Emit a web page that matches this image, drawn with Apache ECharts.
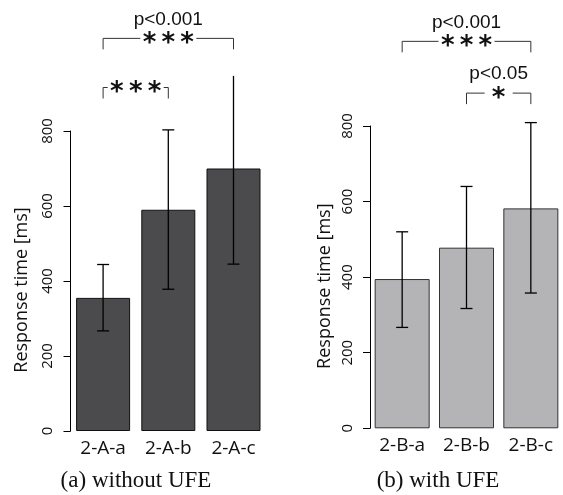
<!DOCTYPE html>
<html>
<head>
<meta charset="utf-8">
<script src="https://cdn.jsdelivr.net/npm/echarts@6/dist/echarts.min.js"></script>
<style>
  html, body { margin: 0; padding: 0; background: #fff; }
  #chart { width: 563px; height: 495px; }
</style>
</head>
<body>
<div id="chart"></div>
<script>
// (a) without UFE
const catA = ["2-A-a", "2-A-b", "2-A-c"];
const meanA = [355, 590, 700];
const lowA = [267, 378, 445];
const highA = [444, 803, 947];
// (b) with UFE
const catB = ["2-B-a", "2-B-b", "2-B-c"];
const meanB = [395, 478, 582];
const lowB = [267, 317, 358];
const highB = [520, 640, 809];
// significance brackets: [from, to, level (ms), stars, p label]
const sigA = [
  [0, 2, 1047, "*\u2009*\u2009*", "p<0.001"],
  [0, 1, 916, "*\u2009*\u2009*", ""],
];
const sigB = [
  [0, 2, 1024, "*\u2009*\u2009*", "p<0.001"],
  [1, 2, 887, "*", "p<0.05"],
];
const yMax = 800;
const yStep = 200;

const sans = "Open Sans";
const chart = echarts.init(document.getElementById("chart"));

function errRender(params, api) {
  const x = api.value(0);
  const lo = api.value(1);
  const hi = api.value(2);
  const top = api.coord([x, hi]);
  const bot = api.coord([x, lo]);
  const w = 6;
  const style = { stroke: "#000", lineWidth: 1.3 };
  const kids = [
    { type: "line", shape: { x1: top[0], y1: top[1], x2: bot[0], y2: bot[1] }, style },
    { type: "line", shape: { x1: bot[0] - w, y1: bot[1], x2: bot[0] + w, y2: bot[1] }, style },
  ];
  // in the original the top cap of very tall whiskers is cut off
  if (hi < 900) {
    kids.push({ type: "line", shape: { x1: top[0] - w, y1: top[1], x2: top[0] + w, y2: top[1] }, style });
  }
  return { type: "group", children: kids };
}

function bracketRender(list) {
  return function (params, api) {
    const s = list[params.dataIndex];
    const p0 = api.coord([s[0], s[2]]);
    const p1 = api.coord([s[1], s[2]]);
    const y = p0[1];
    const drop = 11;
    const cx = (p0[0] + p1[0]) / 2;
    const half = s[3].length > 1 ? 28 : 14;
    const ls = { stroke: "#333", lineWidth: 1, fill: null };
    const kids = [
      { type: "polyline", shape: { points: [[p0[0], y + drop], [p0[0], y], [cx - half, y]] }, style: ls },
      { type: "polyline", shape: { points: [[cx + half, y], [p1[0], y], [p1[0], y + drop]] }, style: ls },
      {
        type: "text",
        x: cx, y: y + 6,
        style: { text: s[3], fill: "#111", font: 'bold 26px "DejaVu Sans"', textAlign: "center", textVerticalAlign: "middle" },
      },
    ];
    if (s[4]) {
      kids.push({
        type: "text",
        x: cx, y: y - 19,
        style: { text: s[4], fill: "#111", font: '19px "Liberation Sans"', textAlign: "center", textVerticalAlign: "middle" },
      });
    }
    return { type: "group", children: kids };
  };
}

function xAxisCfg(cats, idx) {
  return {
    type: "category",
    gridIndex: idx,
    data: cats,
    axisLine: { show: false },
    axisTick: { show: false },
    axisLabel: { fontFamily: sans, fontSize: 19, color: "#111", margin: 8 },
  };
}

function yAxisCfg(idx, gap) {
  return {
    type: "value",
    gridIndex: idx,
    min: 0,
    max: yMax,
    interval: yStep,
    name: "Response time [ms]",
    nameLocation: "middle",
    nameGap: gap,
    nameTextStyle: { fontFamily: sans, fontSize: 18, color: "#111", padding: [0, 18, 0, 0] },
    splitLine: { show: false },
    axisLine: { show: true, lineStyle: { color: "#000", width: 1 } },
    axisTick: { show: true, length: 7, lineStyle: { color: "#000" } },
    axisLabel: { rotate: 90, fontFamily: sans, fontSize: 15, color: "#111", margin: 15 },
  };
}

const option = {
  animation: false,
  backgroundColor: "#fff",
  grid: [
    { left: 70.5, top: 131, width: 195.6, height: 300 },
    { left: 370, top: 126, width: 197, height: 302.3 },
  ],
  xAxis: [xAxisCfg(catA, 0), xAxisCfg(catB, 1)],
  yAxis: [yAxisCfg(0, 40), yAxisCfg(1, 36)],
  series: [
    {
      type: "bar", xAxisIndex: 0, yAxisIndex: 0, data: meanA, barWidth: 54,
      itemStyle: { color: "#4b4b4d", borderColor: "#111", borderWidth: 1 },
    },
    {
      type: "bar", xAxisIndex: 1, yAxisIndex: 1, data: meanB, barWidth: 55,
      itemStyle: { color: "#b4b4b6", borderColor: "#333", borderWidth: 1 },
    },
    {
      type: "custom", xAxisIndex: 0, yAxisIndex: 0, clip: false, z: 5,
      data: catA.map((c, i) => [i, lowA[i], highA[i]]),
      renderItem: errRender,
    },
    {
      type: "custom", xAxisIndex: 1, yAxisIndex: 1, clip: false, z: 5,
      data: catB.map((c, i) => [i, lowB[i], highB[i]]),
      renderItem: errRender,
    },
    {
      type: "custom", xAxisIndex: 0, yAxisIndex: 0, clip: false, z: 5,
      data: sigA.map((s) => [s[0], s[2]]),
      renderItem: bracketRender(sigA),
    },
    {
      type: "custom", xAxisIndex: 1, yAxisIndex: 1, clip: false, z: 5,
      data: sigB.map((s) => [s[0], s[2]]),
      renderItem: bracketRender(sigB),
    },
  ],
  graphic: [
    {
      type: "text", x: 136, y: 481,
      style: { text: "(a) without UFE", font: '23px "Liberation Serif"', fill: "#111", textAlign: "center", textVerticalAlign: "middle" },
    },
    {
      type: "text", x: 438, y: 481,
      style: { text: "(b) with UFE", font: '23px "Liberation Serif"', fill: "#111", textAlign: "center", textVerticalAlign: "middle" },
    },
  ],
};

chart.setOption(option);
</script>
</body>
</html>
